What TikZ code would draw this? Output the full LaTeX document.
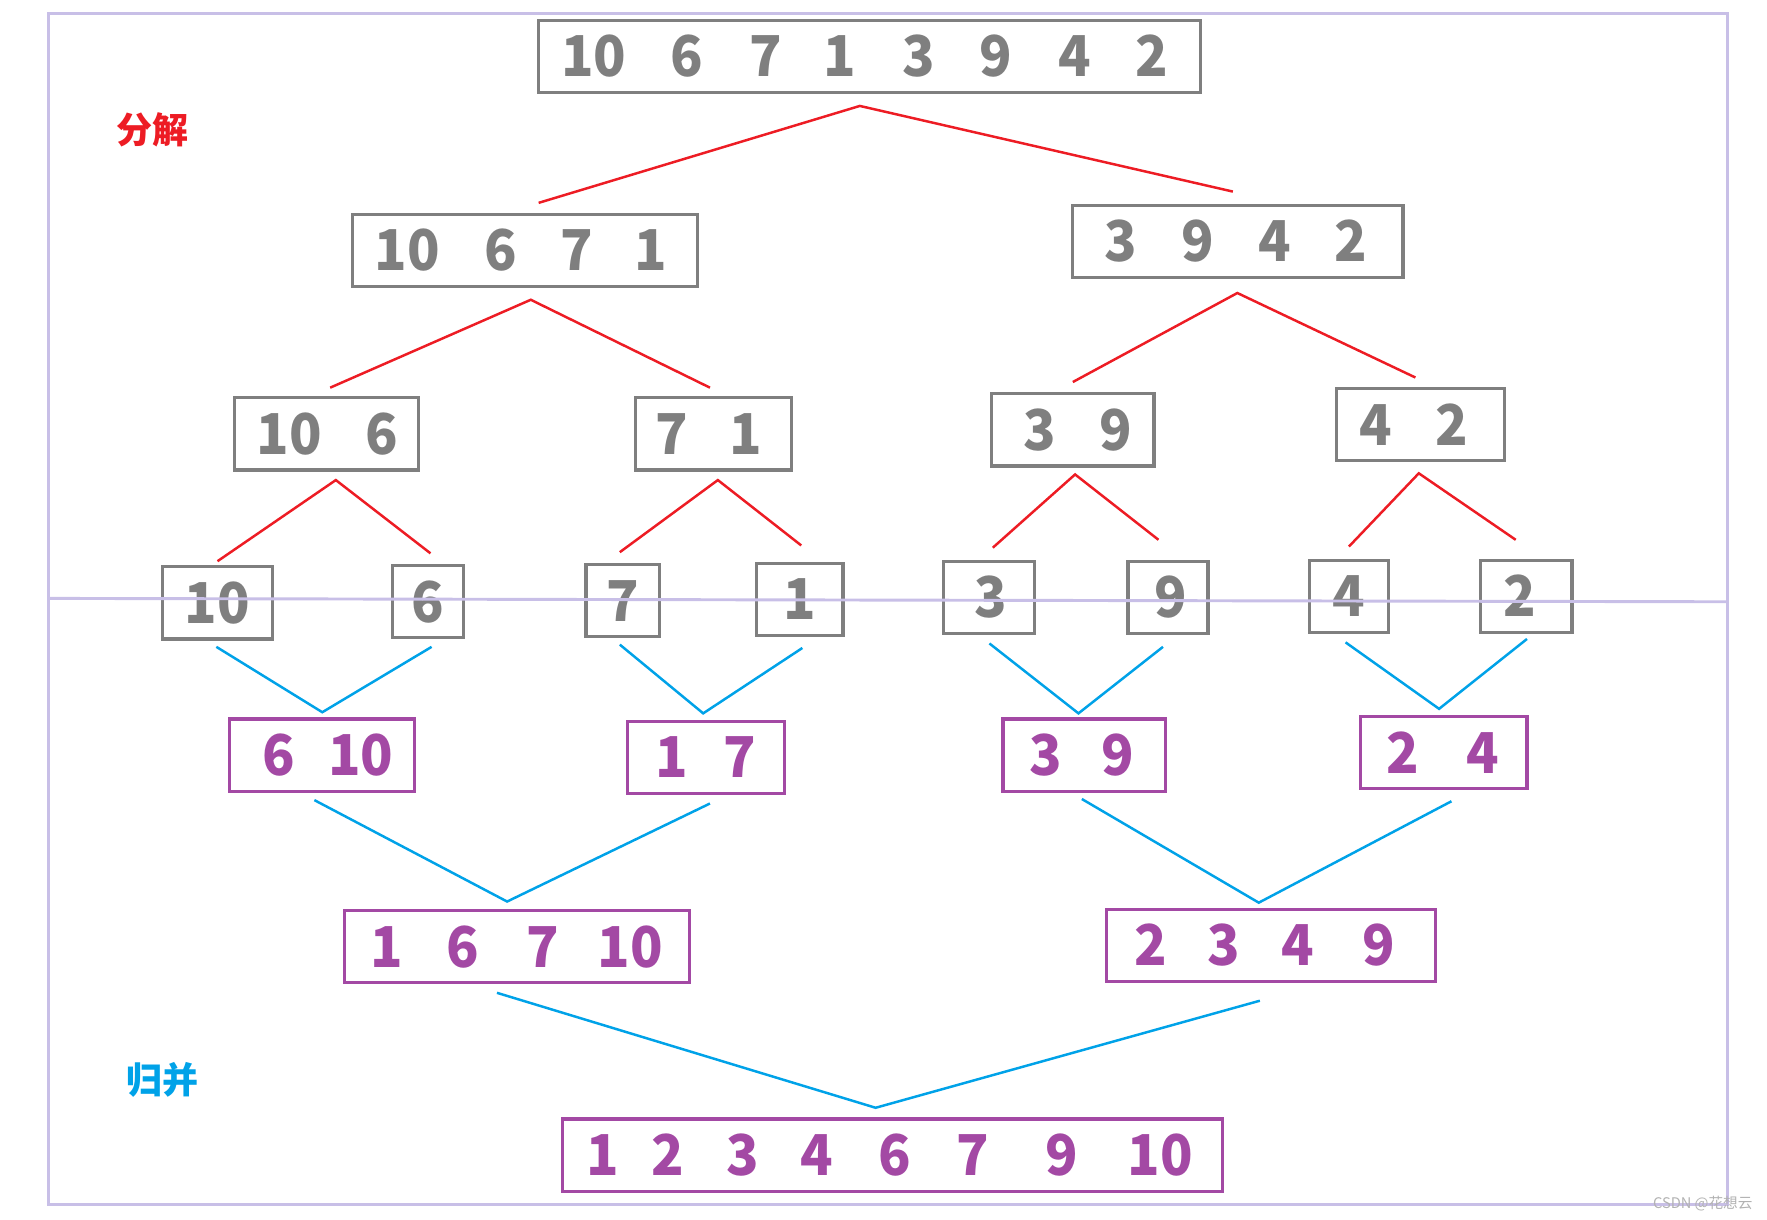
\documentclass[tikz,border=0pt]{standalone}
\usepackage{fontspec}
\setmainfont{Noto Sans CJK SC}
\newfontfamily\dfont[FakeStretch=0.95]{Noto Sans CJK SC}
\definecolor{boxgray}{HTML}{7F7F7F}
\definecolor{mpurple}{HTML}{A349A4}
\definecolor{mred}{HTML}{ED1C24}
\definecolor{mblue}{HTML}{00A2E8}
\definecolor{frame}{HTML}{C8BFE7}
% a digit group placed with its centre #1 from the box centre
\newcommand\dd[2]{\makebox[0pt][l]{\hspace*{#1}\makebox[0pt]{#2}}}
\begin{document}
\begin{tikzpicture}[x=0.5pt,y=-0.5pt,
  numbox/.style={line width=1.4pt, inner sep=0pt, minimum height=32pt,
    font=\dfont\bfseries\fontsize{25}{25}\selectfont},
  gbox/.style={numbox, draw=boxgray, text=boxgray},
  pbox/.style={numbox, draw=mpurple, text=mpurple},
  splitline/.style={draw=mred, line width=1.1pt},
  mergeline/.style={draw=mblue, line width=1.1pt},
  frameline/.style={draw=frame, line width=1.3pt},
  lbl/.style={font=\bfseries\fontsize{16}{16}\selectfont}]
\useasboundingbox (0,0) rectangle (1568,1082);
\draw[frameline] (43,12) rectangle (1533,1069);
% split level 0
\node[gbox, minimum width=294pt] (n0) at (771.5,50) {\dd{-122.3pt}{10}\dd{-80.8pt}{6}\dd{-45.9pt}{7}\dd{-13.1pt}{1}\dd{21.8pt}{3}\dd{56.2pt}{9}\dd{91pt}{4}\dd{125.3pt}{2}};
% split level 1
\node[gbox, minimum width=153pt] (n1) at (466,222) {\dd{-52.2pt}{10}\dd{-11pt}{6}\dd{22.8pt}{7}\dd{55.9pt}{1}};
\node[gbox, minimum width=146.5pt] (n2) at (1098.5,214) {\dd{-51.8pt}{3}\dd{-18pt}{9}\dd{16.3pt}{4}\dd{50.3pt}{2}};
% split level 2
\node[gbox, minimum width=81.5pt] (n3) at (289.5,385) {\dd{-16.3pt}{10}\dd{24.8pt}{6}};
\node[gbox, minimum width=69pt] (n4) at (633,385) {\dd{-18.6pt}{7}\dd{14.3pt}{1}};
\node[gbox, minimum width=72pt] (n5) at (952,381.5) {\dd{-14.8pt}{3}\dd{19pt}{9}};
\node[gbox, minimum width=74.5pt] (n6) at (1260.5,377) {\dd{-20pt}{4}\dd{14pt}{2}};
% split level 3
\node[gbox, minimum width=49pt] (n7) at (193,535) {10};
\node[gbox, minimum width=31.5pt] (n8) at (379.5,534) {6};
\node[gbox, minimum width=32.5pt] (n9) at (552.5,533) {7};
\node[gbox, minimum width=38.5pt] (n10) at (709.5,532) {1};
\node[gbox, minimum width=40.5pt] (n11) at (877.5,530) {\dd{1pt}{3}};
\node[gbox, minimum width=35.5pt] (n12) at (1036.5,530) {\dd{1pt}{9}};
\node[gbox, minimum width=35pt] (n13) at (1197,529) {4};
\node[gbox, minimum width=40.5pt] (n14) at (1354.5,529) {\dd{-2.8pt}{2}};
% merge level 1
\node[pbox, minimum width=82pt] (m1) at (286,670) {\dd{-19.5pt}{6}\dd{17pt}{10}};
\node[pbox, minimum width=69.5pt] (m2) at (626.5,672) {\dd{-15.3pt}{1}\dd{14.8pt}{7}};
\node[pbox, minimum width=72pt] (m3) at (962,670) {\dd{-17pt}{3}\dd{15pt}{9}};
\node[pbox, minimum width=74pt] (m4) at (1281,668) {\dd{-18pt}{2}\dd{17.5pt}{4}};
% merge level 2
\node[pbox, minimum width=153pt] (m5) at (459,840) {\dd{-58.1pt}{1}\dd{-24.2pt}{6}\dd{11.2pt}{7}\dd{50.3pt}{10}};
\node[pbox, minimum width=146pt] (m6) at (1128,839) {\dd{-53.6pt}{2}\dd{-20.9pt}{3}\dd{12pt}{4}\dd{47.7pt}{9}};
% merge level 3
\node[pbox, minimum width=293pt] (m7) at (792,1025) {\dd{-128.4pt}{1}\dd{-99.6pt}{2}\dd{-66.3pt}{3}\dd{-33.4pt}{4}\dd{1.2pt}{6}\dd{35.8pt}{7}\dd{75.3pt}{9}\dd{118.7pt}{10}};
% split connectors
\foreach \n/\ax/\ay/\bx/\by/\cx/\cy in {
  r1/478/180/763/94/1094/170,
  r2/293/344/471/266/630/344,
  r3/952/339/1098/260/1256/335,
  r4/193/498/298/426/382/491,
  r5/550/490/637/426/711/484,
  r6/881/486/954/421/1028/479,
  r7/1197/485/1259/420/1345/479}{
  \coordinate (\n-l) at (\ax,\ay);
  \coordinate (\n-t) at (\bx,\by);
  \coordinate (\n-r) at (\cx,\cy);
  \draw[splitline] (\n-l) -- (\n-t) -- (\n-r);
}
% merge connectors
\foreach \n/\ax/\ay/\bx/\by/\cx/\cy in {
  b1/192/574/286/632/383/574,
  b2/550/572/624/633/712/575,
  b3/878/571/957/633/1032/574,
  b4/1194/570/1277/629/1355/567,
  b5/279/710/450/800/630/713,
  b6/960/709/1117/801/1288/711,
  b7/441/881/777/983/1118/888}{
  \coordinate (\n-l) at (\ax,\ay);
  \coordinate (\n-b) at (\bx,\by);
  \coordinate (\n-r) at (\cx,\cy);
  \draw[mergeline] (\n-l) -- (\n-b) -- (\n-r);
}
% divider
\draw[frameline] (43,531) -- (1533,534);
% labels
\node[lbl, text=mred] (lsplit) at (135,115) {分解};
\node[lbl, text=mblue] (lmerge) at (144,958) {归并};
\node[text=gray!60, font=\fontsize{6.5}{6.5}\selectfont] (wm) at (1511,1068) {CSDN @花想云};
\end{tikzpicture}
\end{document}
